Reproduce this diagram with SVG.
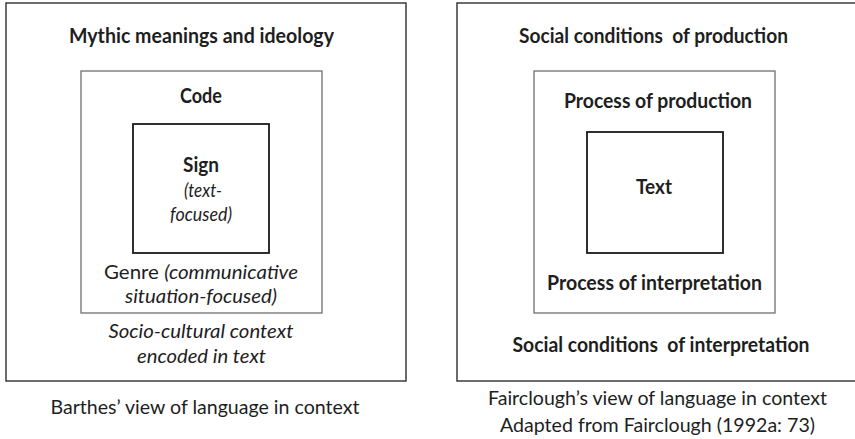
<svg xmlns="http://www.w3.org/2000/svg" width="855" height="439" viewBox="0 0 855 439">
  <style>
    text { font-family: Lato, "Open Sans", "Liberation Sans", sans-serif; font-size: 20px; fill: #1e1e1e; text-anchor: middle; white-space: pre; }
    .b { font-weight: bold; }
    .i { font-style: italic; }
    .outer { fill: none; stroke: #2e2e2e; stroke-width: 1.4; }
    .mid { fill: none; stroke: #7a7a7a; stroke-width: 1.4; }
    .inner { fill: none; stroke: #1a1a1a; stroke-width: 1.8; }
  </style>
  <rect width="855" height="439" fill="#ffffff"/>

  <!-- Barthes: nested levels of meaning -->
  <g id="barthes-myth">
    <rect class="outer" x="6" y="3" width="400" height="378"/>
    <text class="b" x="201.5" y="43" textLength="265" lengthAdjust="spacingAndGlyphs">Mythic meanings and ideology</text>
    <text class="i" x="201" y="338" textLength="185" lengthAdjust="spacingAndGlyphs">Socio-cultural context</text>
    <text class="i" x="201.5" y="363" textLength="129" lengthAdjust="spacingAndGlyphs">encoded in text</text>
  </g>
  <g id="barthes-code">
    <rect class="mid" x="81" y="71" width="241" height="242"/>
    <text class="b" x="201" y="103" textLength="42" lengthAdjust="spacingAndGlyphs">Code</text>
    <text x="201" y="279" textLength="194" lengthAdjust="spacingAndGlyphs">Genre <tspan class="i">(communicative</tspan></text>
    <text class="i" x="201" y="303" textLength="152" lengthAdjust="spacingAndGlyphs">situation-focused)</text>
  </g>
  <g id="barthes-sign">
    <rect class="inner" x="133" y="124" width="136" height="129"/>
    <text class="b" x="201" y="172" textLength="36" lengthAdjust="spacingAndGlyphs">Sign</text>
    <text class="i" x="203" y="197" textLength="38" lengthAdjust="spacingAndGlyphs">(text-</text>
    <text class="i" x="201" y="221" textLength="62" lengthAdjust="spacingAndGlyphs">focused)</text>
  </g>
  <text id="barthes-caption" x="205" y="414" textLength="309" lengthAdjust="spacingAndGlyphs">Barthes’ view of language in context</text>

  <!-- Fairclough: text within processes within social conditions -->
  <g id="fairclough-social">
    <rect class="outer" x="457" y="3" width="402" height="378"/>
    <text class="b" x="653.5" y="43" textLength="269" lengthAdjust="spacingAndGlyphs">Social conditions  of production</text>
    <text class="b" x="661" y="352" textLength="297" lengthAdjust="spacingAndGlyphs">Social conditions  of interpretation</text>
  </g>
  <g id="fairclough-process">
    <rect class="mid" x="534" y="71" width="241" height="242"/>
    <text class="b" x="658" y="108" textLength="188" lengthAdjust="spacingAndGlyphs">Process of production</text>
    <text class="b" x="654.5" y="290" textLength="215" lengthAdjust="spacingAndGlyphs">Process of interpretation</text>
  </g>
  <g id="fairclough-text">
    <rect class="inner" x="587" y="132" width="136" height="121"/>
    <text class="b" x="654" y="194" textLength="36" lengthAdjust="spacingAndGlyphs">Text</text>
  </g>
  <g id="fairclough-caption">
    <text x="657.5" y="405" textLength="339" lengthAdjust="spacingAndGlyphs">Fairclough’s view of language in context</text>
    <text x="657.5" y="432" textLength="315" lengthAdjust="spacingAndGlyphs">Adapted from Fairclough (1992a: 73)</text>
  </g>
</svg>
